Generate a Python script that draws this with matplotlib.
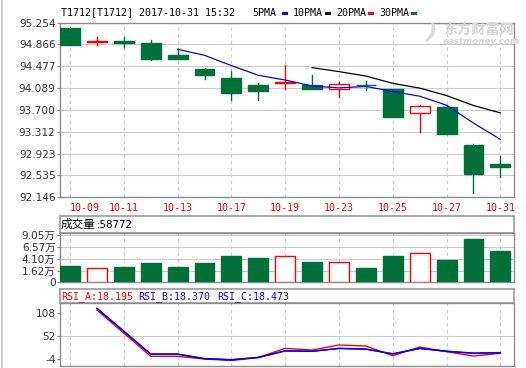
import matplotlib
matplotlib.use('Agg')
import matplotlib.pyplot as plt
from matplotlib.patches import Rectangle
from matplotlib.lines import Line2D
import numpy as np
import pandas as pd

# ---------------- data ----------------
dates = ['10-09', '10-10', '10-11', '10-12', '10-13', '10-16', '10-17', '10-18', '10-19',
         '10-20', '10-23', '10-24', '10-25', '10-26', '10-27', '10-30', '10-31']
opens = [95.160, 94.915, 94.923, 94.893, 94.680, 94.425, 94.270, 94.150, 94.180,
         94.145, 94.068, 94.147, 94.068, 93.641, 93.759, 93.077, 92.739]
closes = [94.862, 94.925, 94.893, 94.613, 94.610, 94.329, 94.008, 94.030, 94.190,
          94.080, 94.157, 94.140, 93.581, 93.771, 93.278, 92.566, 92.690]
highs = [95.183, 94.994, 94.994, 94.946, 94.780, 94.453, 94.394, 94.175, 94.506,
         94.323, 94.204, 94.216, 94.080, 93.794, 93.784, 93.100, 92.881]
lows = [94.862, 94.852, 94.827, 94.590, 94.600, 94.257, 93.878, 93.870, 94.068,
        94.080, 93.937, 94.056, 93.581, 93.314, 93.268, 92.228, 92.513]
volumes = [27200, 22500, 25200, 33400, 25200, 33400, 47800, 43700, 47200,
           35400, 34800, 23100, 47800, 53300, 39600, 82800, 58772]
rsi_a = [np.nan, 115.3, 59.0, 2.6, 2.6, -4.0, -7.7, -0.4, 22.0, 17.9, 30.1, 27.6, 4.0, 25.2, 13.8, 3.3, 9.9]
rsi_b = [np.nan, 119.4, 63.8, 8.2, 8.2, -3.0, -5.6, 0.0, 16.2, 15.0, 22.0, 20.3, 8.2, 22.0, 14.7, 9.9, 11.3]
rsi_c = [np.nan, 118.8, 63.2, 7.6, 7.6, -3.4, -6.0, -0.4, 15.6, 14.6, 21.6, 19.9, 8.8, 21.5, 15.0, 10.3, 11.6]

price_ticks = [95.254, 94.866, 94.477, 94.089, 93.700, 93.312, 92.923, 92.535, 92.146]
vol_ticks = [16200, 41000, 65700, 90500]
vol_tick_labels = ['1.62万', '4.10万', '6.57万', '9.05万']
rsi_ticks = [108, 52, -4]
label_idx = [0, 2, 4, 6, 8, 10, 12, 14, 16]
ma_specs = [('5PMA', 5, '#0000ff'), ('10PMA', 10, '#000000'),
            ('20PMA', 20, '#ff0000'), ('30PMA', 30, '#007a33')]

# ---------------- style ----------------
W, H = 526, 368
GREEN = '#00703a'
RED = '#ff0000'
GRID = '#cccccc'
SPINE = '#8c8c8c'
TXT = '#333333'

fig = plt.figure(figsize=(W / 100, H / 100), dpi=100)
fig.patch.set_facecolor('white')


def px_axes(l, t, r, b):
    return fig.add_axes([l / W, 1 - b / H, (r - l) / W, (b - t) / H])


n = len(dates)
x = np.arange(n)
XL = (-0.372, 16.506)
mono = 'DejaVu Sans Mono'


def style_axes(ax):
    ax.set_xlim(*XL)
    ax.set_facecolor('white')
    for s in ax.spines.values():
        s.set_color(SPINE)
        s.set_linewidth(1.0)
    ax.set_xticks([])
    ax.tick_params(axis='y', length=2, width=0.8, color=SPINE, pad=1.2,
                   labelsize=7.6, labelcolor=TXT)
    for i in label_idx:
        ax.axvline(i, color=GRID, lw=0.8, ls=(0, (3, 3)), zorder=0)


# ---------------- main candle chart ----------------
ax = px_axes(60, 22.7, 514, 197.3)
style_axes(ax)
ax.set_ylim(92.146, 95.254)
ax.set_yticks(price_ticks)
ax.set_yticklabels([f'{v:.3f}' for v in price_ticks])
for v in price_ticks:
    ax.axhline(v, color=GRID, lw=0.8, zorder=0)

bw = 0.74
for i in range(n):
    o, c, h, l = opens[i], closes[i], highs[i], lows[i]
    top, bot = max(o, c), min(o, c)
    if c >= o:
        col = RED
        ax.add_patch(Rectangle((i - bw / 2, bot), bw, max(top - bot, 0.001),
                               facecolor='white', edgecolor=col, lw=1.0, zorder=3))
    else:
        col = GREEN
        ax.add_patch(Rectangle((i - bw / 2, bot), bw, max(top - bot, 0.001),
                               facecolor=col, edgecolor=col, lw=1.0, zorder=3))
    ax.plot([i, i], [top, h], color=col, lw=1.0, zorder=2)
    ax.plot([i, i], [l, bot], color=col, lw=1.0, zorder=2)

cs = pd.Series(closes)
for name, win, col in ma_specs:
    ma = cs.rolling(win).mean()
    if ma.notna().any():
        ax.plot(x, ma.values, color=col, lw=0.9, zorder=4)

# date labels
for i in label_idx:
    ha = 'left' if i == 0 else 'center'
    ax.text(i, -0.061, dates[i], transform=ax.get_xaxis_transform(), ha=ha, va='center',
            color=RED, fontsize=7.2, family=mono)

# top title line
fig.text(61 / W, 1 - 12.5 / H, 'T1712[T1712] 2017-10-31 15:32', fontsize=7.2, family=mono,
         color='black', va='center', ha='left')
leg_x = [252, 293, 336, 379]
mark_x = [282, 325, 368, 411]
for (name, win, col), lx, mx in zip(ma_specs, leg_x, mark_x):
    fig.text(lx / W, 1 - 12.5 / H, name, fontsize=7.2, family=mono, color='black',
             va='center', ha='left')
    fig.patches.append(Rectangle((mx / W, 1 - 14.5 / H), 6 / W, 2.5 / H, facecolor=col,
                                 edgecolor='none', transform=fig.transFigure, figure=fig))

# watermark
fig.text(443 / W, 1 - 30 / H, '东方财富网', fontsize=10.2, color='#d6d6d6',
         family=['Noto Sans CJK SC'], fontweight='bold', va='center', ha='left')
fig.text(443 / W, 1 - 42 / H, 'eastmoney.com', fontsize=6.3, color='#d6d6d6',
         family='DejaVu Sans', fontweight='bold', style='italic', va='center', ha='left')
fig.text(430 / W, 1 - 33 / H, ')', fontsize=16, color='#dadada', family='DejaVu Sans',
         fontweight='bold', va='center', ha='center', rotation=-20)

# ---------------- volume ----------------
axh = px_axes(60, 216, 514, 233.3)
axh.set_xticks([]); axh.set_yticks([])
for s in axh.spines.values():
    s.set_color('#999999'); s.set_linewidth(1.2)
axh.text(1 / 454, 0.5, '成交量', transform=axh.transAxes, fontsize=8.4, va='center',
         ha='left', family=['Noto Sans CJK SC'], color='black')
axh.text(37 / 454, 0.5, f':{volumes[-1]}', transform=axh.transAxes, fontsize=7.4,
         va='center', ha='left', family='DejaVu Sans', color='black')

axv = px_axes(60, 233.3, 514, 282)
style_axes(axv)
vmin, vmax = -5700, 94500
axv.set_ylim(vmin, vmax)
axv.set_yticks([vmin] + vol_ticks)
axv.set_yticklabels(['0'] + vol_tick_labels, family=['DejaVu Sans', 'Noto Sans CJK SC'])
for v in vol_ticks:
    axv.axhline(v, color=GRID, lw=0.8, zorder=0)
for i in range(n):
    up = closes[i] >= opens[i]
    axv.bar(i, volumes[i] - vmin, bottom=vmin, width=bw,
            facecolor='white' if up else GREEN, edgecolor=RED if up else GREEN,
            lw=1.0, zorder=3)

# ---------------- RSI ----------------
axrh = px_axes(60, 289.3, 514, 303.3)
axrh.set_xticks([]); axrh.set_yticks([])
for s in axrh.spines.values():
    s.set_color('#999999'); s.set_linewidth(1.2)
axrh.text(1 / 454, 0.45, 'RSI_A:18.195', transform=axrh.transAxes, fontsize=7.2,
          family=mono, color=RED, va='center', ha='left')
axrh.text(78 / 454, 0.45, 'RSI_B:18.370', transform=axrh.transAxes, fontsize=7.2,
          family=mono, color='#0000ff', va='center', ha='left')
axrh.text(157 / 454, 0.45, 'RSI_C:18.473', transform=axrh.transAxes, fontsize=7.2,
          family=mono, color='#0000ff', va='center', ha='left')

axr = px_axes(60, 303.3, 514, 366)
style_axes(axr)
axr.set_ylim(-21.0, 131.6)
axr.set_yticks(rsi_ticks)
axr.set_yticklabels([str(v) for v in rsi_ticks])
axr.axhline(52, color=GRID, lw=0.8, zorder=0)
axr.plot(x, rsi_a, color=RED, lw=1.0, zorder=3)
axr.plot(x, rsi_c, color='#0000ff', lw=1.0, zorder=4)
axr.plot(x, rsi_b, color='#0000ff', lw=1.0, zorder=4)

# outer left border line
fig.lines.append(Line2D([1.5 / W, 1.5 / W], [0, 1], transform=fig.transFigure,
                        color='#c8c8c8', lw=1.2))

fig.savefig('out.png', dpi=100, facecolor='white')
